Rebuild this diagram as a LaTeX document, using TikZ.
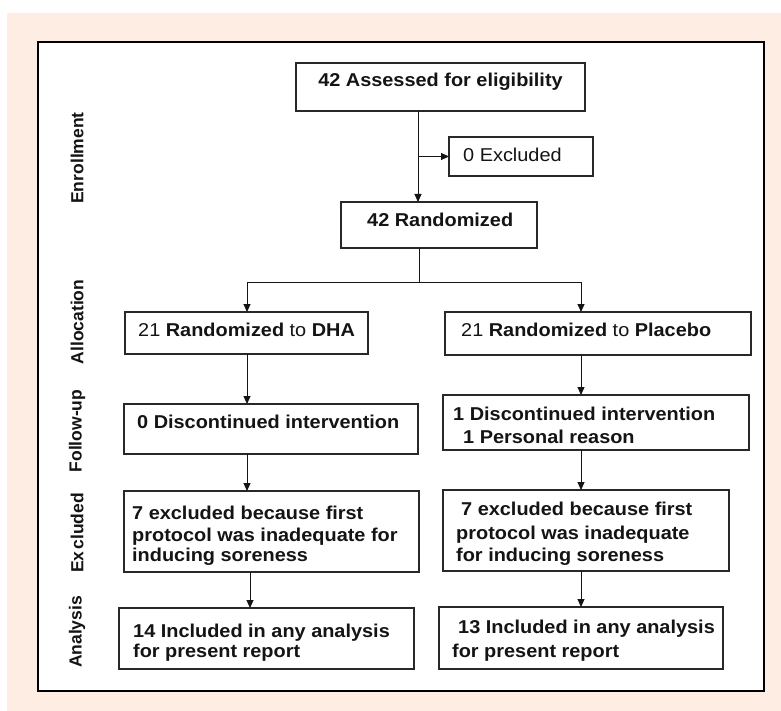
\documentclass[tikz,border=0pt]{standalone}
\usepackage{fontspec}
\setmainfont{Liberation Sans}[FakeStretch=1.07]
\newfontfamily\labelfont{Liberation Sans}
\usetikzlibrary{arrows.meta}
\definecolor{peach}{RGB}{253,237,227}
\definecolor{ink}{RGB}{20,20,20}
\definecolor{boxline}{RGB}{40,40,40}
\begin{document}
\begin{tikzpicture}[x=1pt,y=-1pt,
  box/.style={draw=boxline, line width=1.2pt, fill=white, inner sep=0pt, outer sep=0pt, anchor=north west},
  txt/.style={anchor=base west, inner sep=0pt, text=ink, font=\fontsize{18.6}{22}\selectfont\bfseries},
  rtxt/.style={anchor=base west, inner sep=0pt, text=ink, font=\fontsize{18.6}{22}\selectfont},
  side/.style={rotate=90, inner sep=0pt, text=ink, font=\labelfont\fontsize{17.5}{20}\selectfont\bfseries},
  arr/.style={draw=ink, line width=1pt, -{Triangle[length=8pt,width=7pt]}},
  ln/.style={draw=ink, line width=1pt}]
\useasboundingbox (0,0) rectangle (781,711);
\fill[white] (0,0) rectangle (781,711);
\fill[peach] (7,13) rectangle (781,711);
\draw[black, line width=1.6pt, fill=white] (38,42) rectangle (764,691);

% side labels
\node[side] (lenr) at (77,158) {Enrollment};
\node[side] (lall) at (77,322) {Allocation};
\node[side] (lfol) at (77,431) {Follow-up};
\node[side] (lexc) at (77,533) {Ex\kern2pt cluded};
\node[side] (lana) at (77,632) {Analysis};

% boxes
\node[box, minimum width=289pt, minimum height=48pt] (assess) at (296,63) {};
\node[box, minimum width=144pt, minimum height=39pt] (excl0) at (449,137) {};
\node[box, minimum width=196pt, minimum height=46pt] (rand) at (341,202) {};
\node[box, minimum width=243pt, minimum height=42pt] (dha) at (125,312) {};
\node[box, minimum width=306pt, minimum height=43pt] (plac) at (445,312) {};
\node[box, minimum width=294pt, minimum height=50pt] (disc0) at (124,404) {};
\node[box, minimum width=306pt, minimum height=55pt] (disc1) at (443,395) {};
\node[box, minimum width=295pt, minimum height=81pt] (exclL) at (124,491) {};
\node[box, minimum width=286pt, minimum height=81pt] (exclR) at (443,490) {};
\node[box, minimum width=295pt, minimum height=61pt] (anaL) at (119,608) {};
\node[box, minimum width=284pt, minimum height=62pt] (anaR) at (439,607) {};

% texts
\node[txt, anchor=base] (t1) at (440.5,87) {42 Assessed for eligibility};
\node[rtxt] (t2) at (463,162) {0 Excluded};
\node[txt] (t3) at (367,227) {42 Randomized};
\node[rtxt] (t4) at (138,336) {21 \textbf{Randomized} to \textbf{DHA}};
\node[rtxt] (t5) at (461,336) {21 \textbf{Randomized} to \textbf{Placebo}};
\node[txt] (t6) at (137,428) {0 Discontinued intervention};
\node[txt] (t7a) at (453,420) {1 Discontinued intervention};
\node[txt] (t7b) at (463,443) {1 Personal reason};
\node[txt] (t8a) at (132,519) {7 excluded because first};
\node[txt] (t8b) at (132,541) {protocol was inadequate for};
\node[txt] (t8c) at (132,561) {inducing soreness};
\node[txt] (t9a) at (461,515) {7 excluded because first};
\node[txt] (t9b) at (456,539) {protocol was inadequate};
\node[txt] (t9c) at (456,561) {for inducing soreness};
\node[txt] (t10a) at (133,637) {14 Included in any analysis};
\node[txt] (t10b) at (133,657) {for present report};
\node[txt] (t11a) at (458,633) {13 Included in any analysis};
\node[txt] (t11b) at (452,657) {for present report};

% connector helper coordinates
\coordinate (trunk) at (418,0);
\coordinate (stem) at (419,0);
\coordinate (lcol) at (247,0);
\coordinate (lcol2) at (250,0);
\coordinate (rcol) at (581,0);
\coordinate (split) at (0,282);

% connectors
\draw[arr] (trunk |- assess.south) -- (trunk |- rand.north);
\draw[arr] (trunk |- excl0.west) -- (excl0.west);
\draw[ln] (stem |- rand.south) -- (stem |- split);
\draw[ln] (lcol |- split) -- (rcol |- split);
\draw[arr] (lcol |- split) -- (lcol |- dha.north);
\draw[arr] (rcol |- split) -- (rcol |- plac.north);
\draw[arr] (lcol |- dha.south) -- (lcol |- disc0.north);
\draw[arr] (rcol |- plac.south) -- (rcol |- disc1.north);
\draw[arr] (lcol |- disc0.south) -- (lcol |- exclL.north);
\draw[arr] (rcol |- disc1.south) -- (rcol |- exclR.north);
\draw[arr] (lcol2 |- exclL.south) -- (lcol2 |- anaL.north);
\draw[arr] (rcol |- exclR.south) -- (rcol |- anaR.north);
\end{tikzpicture}
\end{document}
